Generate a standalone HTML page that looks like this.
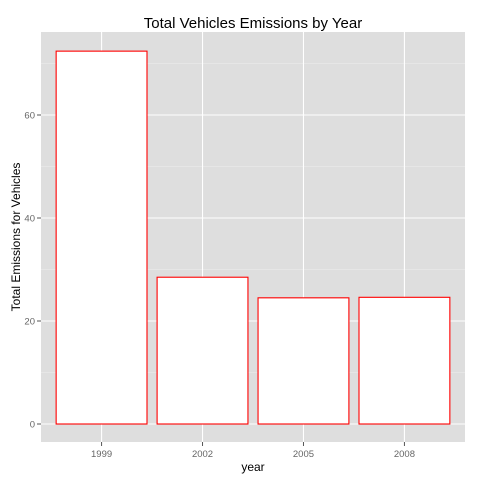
<!DOCTYPE html>
<html><head><meta charset="utf-8"><style>
body{margin:0;background:#fff;}
svg{display:block;font-family:"Liberation Sans",Arial,sans-serif;}
</style></head><body>
<svg id="chart" width="480" height="480">
<rect x="41" y="32" width="424" height="410" fill="#dedede"/>
<g id="grid"></g><g id="bars"></g><g id="axes"></g>
<text x="253" y="28" text-anchor="middle" font-size="15" fill="#000">Total Vehicles Emissions by Year</text>
<text x="253" y="471" text-anchor="middle" font-size="12" fill="#000">year</text>
<text transform="translate(20,237) rotate(-90)" text-anchor="middle" font-size="12" fill="#000">Total Emissions for Vehicles</text>
</svg>
<script>
const categories=["1999","2002","2005","2008"];
const values=[72.4,28.5,24.5,24.6];
const yTicks=[0,20,40,60];
const yMinor=[10,30,50,70];
const NS="http://www.w3.org/2000/svg";
const L=41,R=465,T=32,B=442;
function y(v){return 424-v*5.15;}
const step=(R-L)/(categories.length+0.2);
function x(i){return L+step*(0.6+i);}
function mk(tag,attrs,parent){const e=document.createElementNS(NS,tag);for(const k in attrs)e.setAttribute(k,attrs[k]);parent.appendChild(e);return e;}
const grid=document.getElementById('grid'),bars=document.getElementById('bars'),axes=document.getElementById('axes');
yMinor.forEach(v=>{if(y(v)<T)return;const l=mk('line',{x1:L,x2:R,y1:y(v),y2:y(v),stroke:'#eeeeee','stroke-width':0.6},grid);

});
yTicks.forEach(v=>{const l=mk('line',{x1:L,x2:R,y1:y(v),y2:y(v),stroke:'#fff','stroke-width':1.1},grid);


const tk=mk('line',{x1:L-4,x2:L,y1:y(v),y2:y(v),stroke:'#555'},axes);


const t=mk('text',{x:L-6,y:y(v)+3.5,'text-anchor':'end','font-size':9.5,fill:'#666'},axes);t.textContent=v;

});
categories.forEach((c,i)=>{const cx=x(i);
const g=mk('line',{x1:cx,x2:cx,y1:T,y2:B,stroke:'#fff','stroke-width':1.1},grid);


const w=step*0.9;
const b=mk('rect',{x:cx-w/2,y:y(values[i]),width:w,height:y(0)-y(values[i]),fill:'#fff',stroke:'#ff0000','stroke-width':1.1},bars);


const tk=mk('line',{x1:cx,x2:cx,y1:B,y2:B+4,stroke:'#555'},axes);


const t=mk('text',{x:cx,y:B+15,'text-anchor':'middle','font-size':9.5,fill:'#666'},axes);t.textContent=c;

});
</script>
</body></html>
